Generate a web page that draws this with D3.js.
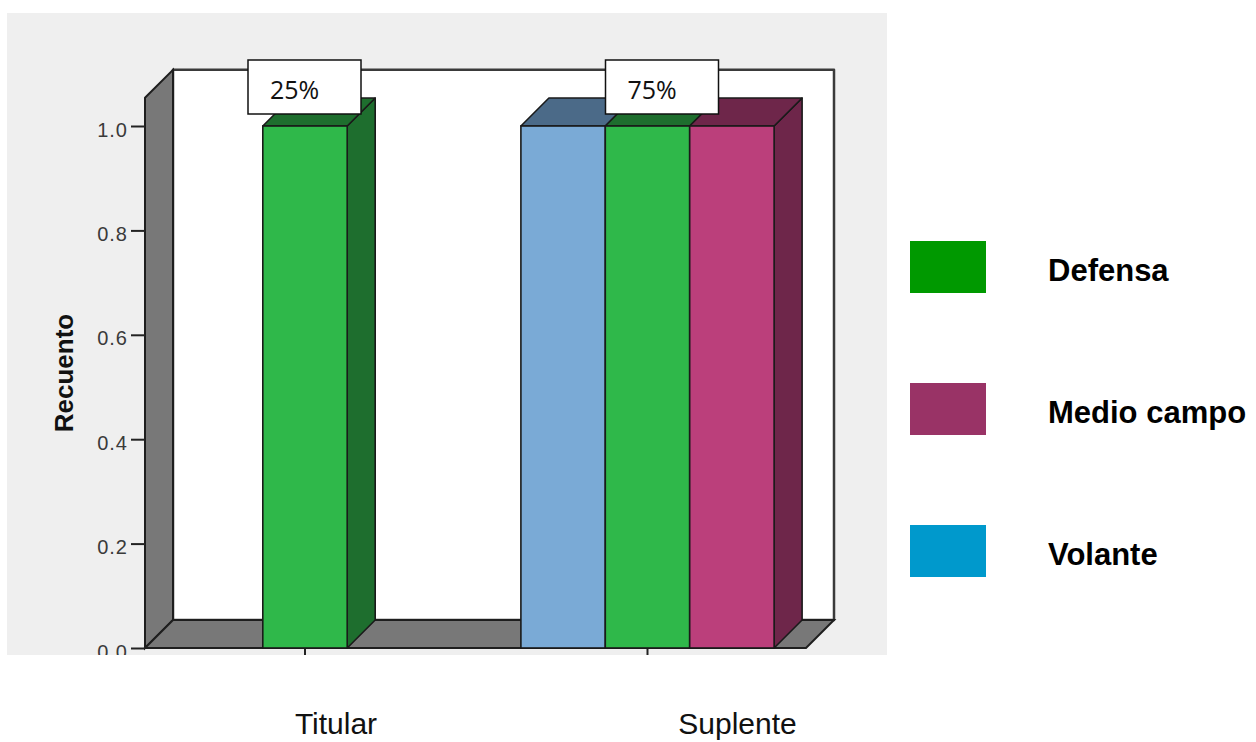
<!DOCTYPE html>
<html>
<head>
<meta charset="utf-8">
<script src="https://cdn.jsdelivr.net/npm/d3@7/dist/d3.min.js"></script>
<style>
  html, body { margin: 0; padding: 0; background: #ffffff; }
  svg { display: block; }
</style>
</head>
<body>
<svg id="chart" width="1256" height="742"></svg>
<script>
// Player counts per status, split by field position
const categories = ["Titular", "Suplente"];
const seriesNames = ["Volante", "Defensa", "Medio campo"];
const volante = [0, 1];
const defensa = [1, 1];
const medioCampo = [0, 1];
const percentLabels = ["25%", "75%"];
const yTicks = [0, 0.2, 0.4, 0.6, 0.8, 1.0];
const legendItems = ["Defensa", "Medio campo", "Volante"];

// Colours
const legendColors = ["#009900", "#993366", "#0099cc"];
const frontColors = { "Volante": "#7aaad6", "Defensa": "#2fb84a", "Medio campo": "#bb3f7b" };
const shadeColors = { "Volante": "#4b6a88", "Defensa": "#1e6e2e", "Medio campo": "#6e264a" };

const seriesValues = { "Volante": volante, "Defensa": defensa, "Medio campo": medioCampo };

const svg = d3.select("#chart");
const sans = "'Liberation Sans', Arial, sans-serif";

// Layout
const panel = { x: 7, y: 13, w: 880, h: 642 };
const depth = 28;
const frameLeft = 145, frameRight = 806;
const barWidth = 84.4;

const x = d3.scalePoint().domain(categories).range([305, 647.5]);
const y = d3.scaleLinear().domain([0, 1]).range([648, 126]);
const frameTop = y(1.054);

// grey panel with clipping
svg.append("defs").append("clipPath").attr("id", "panelClip")
  .append("rect").attr("x", panel.x).attr("y", panel.y).attr("width", panel.w).attr("height", panel.h);

svg.append("rect")
  .attr("x", panel.x).attr("y", panel.y).attr("width", panel.w).attr("height", panel.h)
  .attr("fill", "#efefef");

const g = svg.append("g").attr("clip-path", "url(#panelClip)");

const line = d3.line();
const poly = pts => line(pts) + "Z";

// back wall
g.append("path")
  .attr("d", poly([[frameLeft + depth, frameTop - depth], [frameRight + depth, frameTop - depth],
                   [frameRight + depth, y(0) - depth], [frameLeft + depth, y(0) - depth]]))
  .attr("fill", "#ffffff").attr("stroke", "#3a3a3a").attr("stroke-width", 2.5)
  .attr("stroke-linejoin", "round");

// left wall
g.append("path")
  .attr("d", poly([[frameLeft, frameTop], [frameLeft + depth, frameTop - depth],
                   [frameLeft + depth, y(0) - depth], [frameLeft, y(0)]]))
  .attr("fill", "#787878").attr("stroke", "#1e1e1e").attr("stroke-width", 2);

// floor
g.append("path")
  .attr("d", poly([[frameLeft, y(0)], [frameLeft + depth, y(0) - depth],
                   [frameRight + depth, y(0) - depth], [frameRight, y(0)]]))
  .attr("fill", "#787878").attr("stroke", "#1e1e1e").attr("stroke-width", 2);

// y axis
const yAxis = d3.axisLeft(y).tickValues(yTicks).tickFormat(d3.format(".1f"))
  .tickSize(14).tickPadding(3);
const ya = g.append("g").attr("transform", `translate(${frameLeft},0)`).call(yAxis);
ya.select(".domain").remove();
ya.selectAll(".tick line").attr("stroke", "#222").attr("stroke-width", 2);
ya.selectAll(".tick text")
  .attr("font-family", sans)
  .attr("font-size", 20).attr("fill", "#3a3a3a").attr("letter-spacing", 1)
  .attr("dy", "0.5em");

// category ticks
g.selectAll(".xtick").data(categories).join("line")
  .attr("x1", d => x(d)).attr("x2", d => x(d))
  .attr("y1", y(0)).attr("y2", y(0) + 9)
  .attr("stroke", "#222").attr("stroke-width", 2);

// bars: only non-zero positions are shown, centred on the category
categories.forEach((cat, ci) => {
  const shown = seriesNames.filter(s => seriesValues[s][ci] > 0);
  const start = x(cat) - shown.length * barWidth / 2;
  shown.forEach((s, si) => {
    const v = seriesValues[s][ci];
    const x0 = start + si * barWidth, x1 = x0 + barWidth;
    const yt = y(v), yb = y(0);
    const bar = g.append("g");
    // side face
    bar.append("path")
      .attr("d", poly([[x1, yt], [x1 + depth, yt - depth], [x1 + depth, yb - depth], [x1, yb]]))
      .attr("fill", shadeColors[s]).attr("stroke", "#1a1a1a").attr("stroke-width", 1.6)
      .attr("stroke-linejoin", "round");
    // top face
    bar.append("path")
      .attr("d", poly([[x0, yt], [x0 + depth, yt - depth], [x1 + depth, yt - depth], [x1, yt]]))
      .attr("fill", shadeColors[s]).attr("stroke", "#1a1a1a").attr("stroke-width", 1.6)
      .attr("stroke-linejoin", "round");
    // front face
    bar.append("rect")
      .attr("x", x0).attr("y", yt).attr("width", barWidth).attr("height", yb - yt)
      .attr("fill", frontColors[s]).attr("stroke", "#1a1a1a").attr("stroke-width", 1.6);
  });
});

// percentage boxes
const labelShift = [0, 15];
categories.forEach((cat, ci) => {
  const bx = x(cat) - 57 + labelShift[ci];
  g.append("rect")
    .attr("x", bx).attr("y", 60).attr("width", 113).attr("height", 54)
    .attr("fill", "#ffffff").attr("stroke", "#111").attr("stroke-width", 1.5);
  g.append("text")
    .attr("x", bx + 22).attr("y", 99)
    .attr("font-family", "'Open Sans', sans-serif").attr("font-size", 25)
    .attr("fill", "#111").text(percentLabels[ci]);
});

// axis title
svg.append("text")
  .attr("transform", "translate(73,373) rotate(-90)")
  .attr("text-anchor", "middle")
  .attr("font-family", sans)
  .attr("font-weight", "bold").attr("font-size", 26).attr("fill", "#111")
  .text("Recuento");

// category labels
const catLabelShift = [31, 90];
svg.selectAll(".catlabel").data(categories).join("text")
  .attr("x", (d, i) => x(d) + catLabelShift[i]).attr("y", 734)
  .attr("text-anchor", "middle")
  .attr("font-family", sans)
  .attr("font-size", 30).attr("fill", "#111")
  .text(d => d);

// legend
const lg = svg.append("g");
legendItems.forEach((name, i) => {
  const top = 241 + i * 142;
  lg.append("rect").attr("x", 910).attr("y", top).attr("width", 76).attr("height", 52)
    .attr("fill", legendColors[i]);
  lg.append("text").attr("x", 1048).attr("y", top + 40)
    .attr("font-family", sans)
    .attr("font-weight", "bold").attr("font-size", 31).attr("fill", "#000")
    .text(name);
});
</script>
</body>
</html>
